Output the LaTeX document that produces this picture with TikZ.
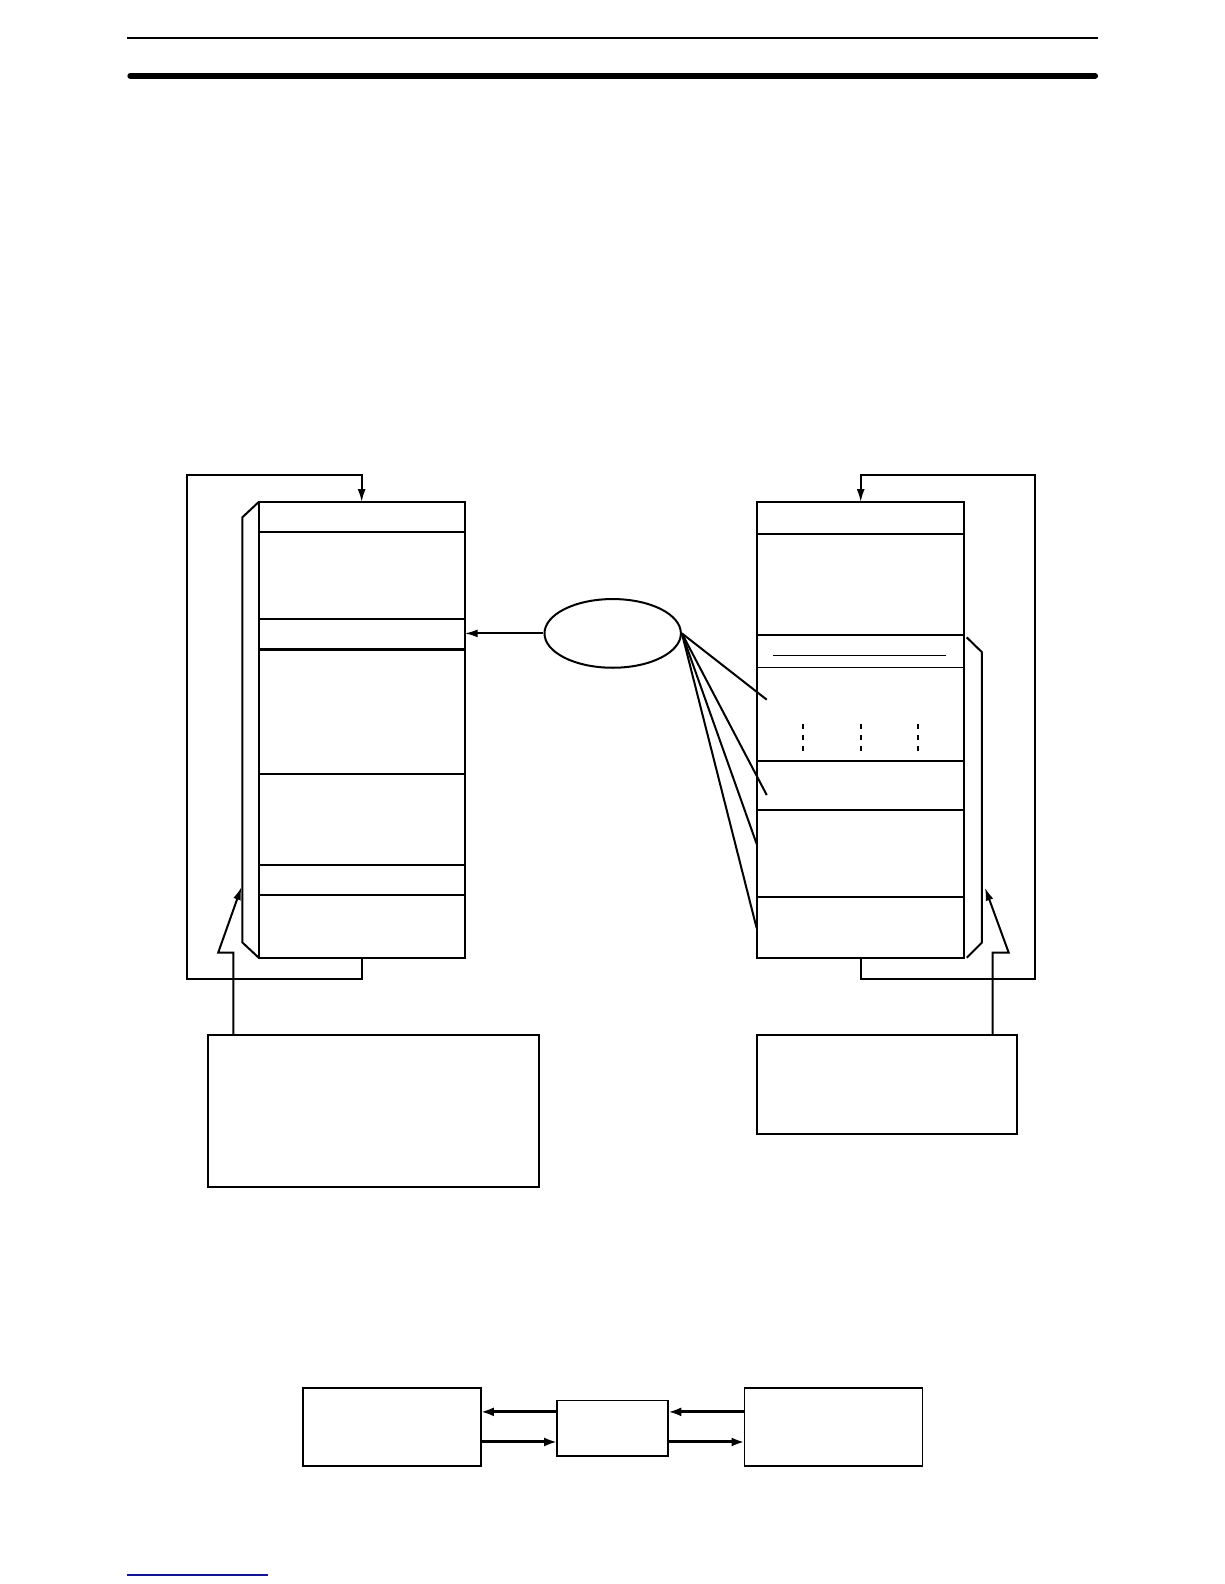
\documentclass[tikz,border=0pt]{standalone}
\usetikzlibrary{arrows.meta,shapes.geometric}
\begin{document}
\begin{tikzpicture}[x=1.0102pt,y=-1.0102pt,
  mem/.style={draw, line width=2.2pt, inner sep=0pt, outer sep=0pt},
  box/.style={draw, line width=2pt, inner sep=0pt, outer sep=0pt},
  sbox/.style={draw, line width=1.6pt, inner sep=0pt, outer sep=0pt},
  div/.style={line width=2.2pt},
  tdiv/.style={line width=1.4pt},
  conn/.style={line width=2pt},
  arr/.style={line width=2pt, -{Latex[length=13pt,width=8pt]}},
  barr/.style={line width=3pt, -{Latex[length=13pt,width=9pt]}},
]
\useasboundingbox (0,0) rectangle (1211.64,1568);
% header rules
\draw[line width=2pt] (126,38) -- (1087,38);
\draw[line width=6pt, line cap=round] (129,75) -- (1084,75);

% left memory block
\node[mem, minimum width=206pt, minimum height=455.6pt] (L) at (358,722.5) {};
\foreach \yy in {527,613,643,766,856,886} \draw[div] (256,\yy) -- (460,\yy);
\draw[conn] (L.north west) -- (240,512) -- (240,933) -- (L.south west);
\coordinate (LlA) at (358,969); \coordinate (LlB) at (185,969);
\coordinate (LlC) at (185,470); \coordinate (LlD) at (358,470);
\draw[arr] (L.south) -- (LlA) -- (LlB) -- (LlC) -- (LlD) -- (L.north);

% right memory block
\node[mem, minimum width=207.1pt, minimum height=455.6pt] (R) at (851.5,722.5) {};
\foreach \yy in {528.5,628.5,802,888} \draw[div] (749,\yy) -- (954,\yy);
\foreach \yy in {661,753.5} \draw[tdiv] (749,\yy) -- (954,\yy);
\draw[tdiv] (765.5,649) -- (936.5,649);
\foreach \xx in {794.5,852,908.4} \draw[line width=2pt, dash pattern=on 5pt off 6pt] (\xx,717) -- (\xx,746);
\draw[conn] (957,631) -- (972,645.6) -- (972,933) -- (957,948);
\coordinate (RlA) at (852,969); \coordinate (RlB) at (1025,969);
\coordinate (RlC) at (1025,470); \coordinate (RlD) at (852,470);
\draw[arr] (R.south -| RlA) -- (RlA) -- (RlB) -- (RlC) -- (RlD) -- (R.north -| RlD);

% ellipse
\node[draw, ellipse, line width=2pt, minimum width=136.4pt, minimum height=68.7pt, inner sep=0pt] (E) at (606.5,627) {};
\draw[arr] (E.west) -- (E.west -| L.east);
\coordinate (F1) at (759,692.6);
\coordinate (F2) at (759,787);
\coordinate (F3) at (749,835.4);
\coordinate (F4) at (749,918.8);
\foreach \f in {F1,F2,F3,F4} \draw[conn] (E.east) -- (\f);

% lower boxes
\node[box, minimum width=331.3pt, minimum height=151.5pt] (LB) at (370,1100) {};
\node[box, minimum width=260.6pt, minimum height=99pt] (RB) at (878,1074) {};
\coordinate (LA1) at (231,943); \coordinate (LA2) at (216,943); \coordinate (LA3) at (239,878);
\draw[arr] (LB.north -| LA1) -- (LA1) -- (LA2) -- (LA3);
\coordinate (RA1) at (982.7,943); \coordinate (RA2) at (998.5,943); \coordinate (RA3) at (975,878.6);
\draw[arr] (RB.north -| RA1) -- (RA1) -- (RA2) -- (RA3);

% bottom diagram
\node[sbox, minimum width=177.8pt, minimum height=77.8pt] (B1) at (388,1412.5) {};
\node[sbox, minimum width=111.1pt, minimum height=55.6pt] (B2) at (606.5,1414) {};
\node[sbox, minimum width=177.8pt, minimum height=77.8pt] (B3) at (825,1412.5) {};
\coordinate (YA) at (0,1397.6); \coordinate (YB) at (0,1427.4);
\draw[barr] (B2.west |- YA) -- (B1.east |- YA);
\draw[barr] (B1.east |- YB) -- (B2.west |- YB);
\draw[barr] (B3.west |- YA) -- (B2.east |- YA);
\draw[barr] (B2.east |- YB) -- (B3.west |- YB);

% footer link rule
\draw[line width=1.6pt, color={rgb,255:red,20;green,20;blue,150}] (125.7,1559) -- (265.3,1559);
\end{tikzpicture}
\end{document}
